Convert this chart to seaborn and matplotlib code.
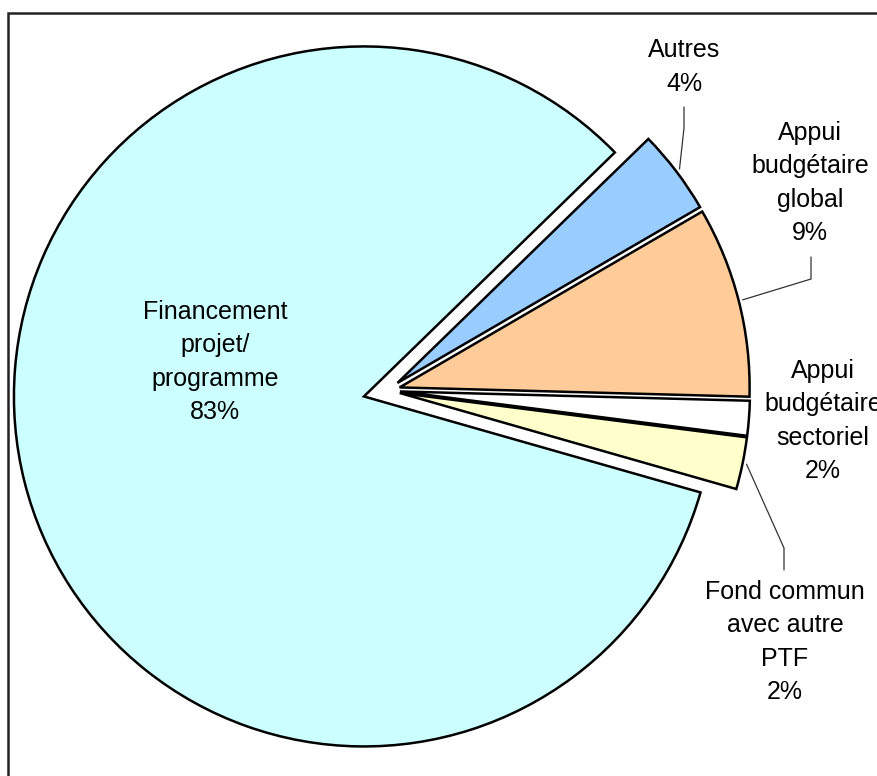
import seaborn as sns
import numpy as np
import matplotlib.pyplot as plt
from matplotlib.patches import Rectangle

# slices, clockwise from the upper edge of "Autres"
categories = ["Autres",
              "Appui\nbudgétaire\nglobal",
              "Appui\nbudgétaire\nsectoriel",
              "Fond commun\navec autre\nPTF",
              "Financement\nprojet/\nprogramme"]
shares = [3.9, 8.8, 1.6, 2.4, 83.3]
colors = ["#99CCFF", "#FFCC99", "#FFFFFF", "#FFFFCC", "#CCFFFF"]

sns.set_style("white")
plt.rcParams["font.family"] = ["Liberation Sans", "DejaVu Sans"]

W, H = 878, 776
fig = plt.figure(figsize=(W / 100, H / 100), dpi=100)
ax = fig.add_axes([0, 0, 1, 1])

wedges, _ = ax.pie(shares, colors=colors, startangle=44.2, counterclock=False,
                   explode=[12.5, 12.5, 12.5, 12.5, 24.3],
                   radius=350, center=(387.5, H - 390.5),
                   wedgeprops=dict(edgecolor="black", linewidth=1.8))

ax.set_xlim(0, W)
ax.set_ylim(0, H)
ax.set_aspect("equal")
ax.axis("off")

# outer frame (only left and top edges fall inside the picture)
ax.add_patch(Rectangle((8.5, -20), 1000, H - 12.5 + 20, fill=False,
                       edgecolor="#222222", linewidth=1.8, zorder=0))

# label centres in image pixels (x, y from top)
label_xy = [(684, 67), (810, 183), (823, 421), (785, 642), (215, 362)]
for w, cat, v, (lx, ly) in zip(wedges, categories, shares, label_xy):
    ax.text(lx, H - ly, f"{cat}\n{round(v)}%", ha="center", va="center",
            fontsize=18, linespacing=1.49, color="black", zorder=5)

# leader lines: text end, bend point, then to the slice's arc
leaders = {0: [(684, 107), (684, 128)],
           1: [(811, 257), (811, 279)],
           3: [(784, 570), (784, 548)]}
for i, pts in leaders.items():
    w = wedges[i]
    tm = np.deg2rad((w.theta1 + w.theta2) / 2)
    ex = w.center[0] + (w.r + 4) * np.cos(tm)
    ey = w.center[1] + (w.r + 4) * np.sin(tm)
    xs = [p[0] for p in pts] + [ex]
    ys = [H - p[1] for p in pts] + [ey]
    ax.plot(xs, ys, color="#333333", linewidth=0.9, zorder=4)

fig.savefig("out.png", dpi=100)
